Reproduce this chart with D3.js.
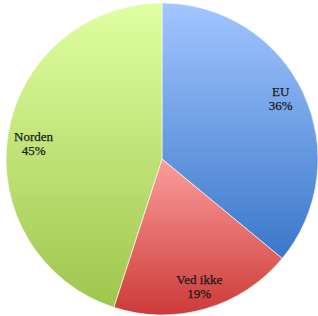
<!DOCTYPE html>
<html lang="en">
<head>
    <meta charset="UTF-8">
    <script src="https://d3js.org/d3.v7.min.js"></script>
    <style>
        body { margin: 0; background: #fff; }
        .lbl { font-family: "Liberation Serif", serif; font-size: 13px; fill: #1a1a1a; stroke: #1a1a1a; stroke-width: 0.25; }
    </style>
</head>
<body>
    <svg id="canvas" width="318" height="316"></svg>
    <script>
        // data
        const categories = ["EU", "Ved ikke", "Norden"];
        const shares = [36, 19, 45];
        const topColors = ["#a2c6ff", "#fb9e9c", "#e0ffa2"];
        const bottomColors = ["#3a77c9", "#cc3a38", "#9fc64c"];

        let svg = d3.select("#canvas");
        const cx = 162, cy = 159, radius = 156;

        let defs = svg.append("defs");
        categories.forEach((c, i) => {
            let grad = defs.append("linearGradient")
                .attr("id", "grad" + i)
                .attr("x1", 0).attr("y1", 0)
                .attr("x2", 0).attr("y2", 1);
            grad.append("stop").attr("offset", "0%").attr("stop-color", topColors[i]);
            grad.append("stop").attr("offset", "100%").attr("stop-color", bottomColors[i]);
        });

        const pie = d3.pie().sort(null).value(d => d.value);
        const arcs = pie(categories.map((c, i) => ({ name: c, value: shares[i], i: i })));

        const arc = d3.arc().innerRadius(0).outerRadius(radius);
        const labelArc = d3.arc().innerRadius(130).outerRadius(130);

        let g = svg.append("g").attr("transform", `translate(${cx},${cy})`);

        g.selectAll("path")
            .data(arcs)
            .join("path")
            .attr("d", arc)
            .attr("fill", d => `url(#grad${d.data.i})`)
            .attr("stroke", "#fff")
            .attr("stroke-width", 0.6);

        // small nudges so labels sit where excel put them
        const nudge = [[1, -6], [1, 2], [0, 4]];

        let labels = g.selectAll("text")
            .data(arcs)
            .join("text")
            .attr("class", "lbl")
            .attr("text-anchor", "middle")
            .attr("transform", d => {
                let [x, y] = labelArc.centroid(d);
                let n = nudge[d.data.i];
                return `translate(${x + n[0]},${y + n[1]})`;
            });

        labels.append("tspan").attr("x", 0).attr("dy", "-0.15em").text(d => d.data.name);
        labels.append("tspan").attr("x", 0).attr("dy", "1.1em").text(d => d.data.value + "%");
    </script>
</body>
</html>
